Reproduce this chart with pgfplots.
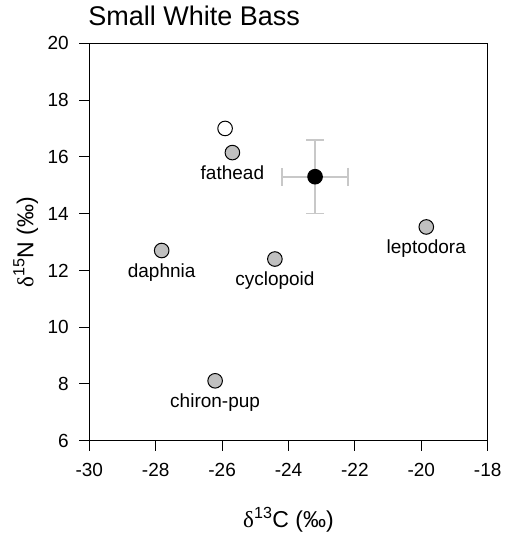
\documentclass[border=0pt]{standalone}
\usepackage{fontspec}
\setmainfont{Liberation Sans}
\newfontfamily\greekserif{Liberation Serif}
\usepackage{pgfplots}
\pgfplotsset{compat=1.18}
\definecolor{ptgray}{RGB}{192,192,192}
\definecolor{errgray}{RGB}{200,200,200}
\begin{document}
\begin{tikzpicture}
\begin{axis}[
  scale only axis,
  width=398.4pt, height=397.4pt,
  xmin=-30, xmax=-18, ymin=6, ymax=20,
  xtick={-30,-28,-26,-24,-22,-20,-18},
  ytick={6,8,10,12,14,16,18,20},
  tick pos=left,
  tick align=outside,
  major tick length=10pt,
  axis line style={line width=1pt},
  every tick/.style={line width=1pt, black},
  /pgf/number format/assume math mode=true,
  ticklabel style={font=\fontsize{19}{21}\selectfont},
  xticklabel style={yshift=-9pt},
  yticklabel style={xshift=-7pt},
  xlabel={{\greekserif δ}\textsuperscript{13}C (‰)},
  ylabel={{\greekserif δ}\textsuperscript{15}N (‰)},
  xlabel style={at={(axis description cs:0.5,-0.2189)}, anchor=base, font=\fontsize{23}{25}\selectfont},
  ylabel style={at={(axis description cs:-0.1401,0.5)}, anchor=base, rotate=0, font=\fontsize{23}{25}\selectfont},
  title={Small White Bass},
  title style={at={(axis description cs:0,1)}, anchor=base west, xshift=-4.5pt, yshift=11.6pt, font=\fontsize{27}{29}\selectfont},
  clip=false,
]
% open circle
\addplot[only marks, mark=*, mark size=7.3pt, mark options={fill=white, draw=black, line width=1pt}]
  coordinates {(-25.91,17.0)};
% gray prey items
\addplot[only marks, mark=*, mark size=7.3pt, mark options={fill=ptgray, draw=black, line width=1pt}]
  coordinates {(-25.69,16.15) (-27.82,12.70) (-24.41,12.40) (-19.85,13.53) (-26.21,8.11)};
% consumer mean with error bars
\addplot[only marks, mark=*, mark size=7.3pt, mark options={fill=black, draw=black, line width=1pt},
  error bars/.cd,
    x dir=both, x explicit, y dir=both, y explicit,
    error bar style={line width=1.6pt, color=errgray},
    error mark options={rotate=90, mark size=9pt, line width=1.6pt, color=errgray}]
  coordinates {(-23.2,15.3) +- (1.0,1.3)};
\begin{scope}[every node/.style={anchor=base, font=\fontsize{19}{21}\selectfont, inner sep=0pt}]
\node at (axis cs:-25.69,16.15) [yshift=-26.5pt] {fathead};
\node at (axis cs:-27.82,12.70) [yshift=-26.5pt] {daphnia};
\node at (axis cs:-24.41,12.40) [yshift=-26.5pt] {cyclopoid};
\node at (axis cs:-19.85,13.53) [yshift=-26.5pt] {leptodora};
\node at (axis cs:-26.21,8.11) [yshift=-26.5pt] {chiron-pup};
\end{scope}
\end{axis}
\pgfresetboundingbox
\path (-89.3pt,-92.3pt) rectangle (416.7pt,440.7pt);
\end{tikzpicture}
\end{document}
